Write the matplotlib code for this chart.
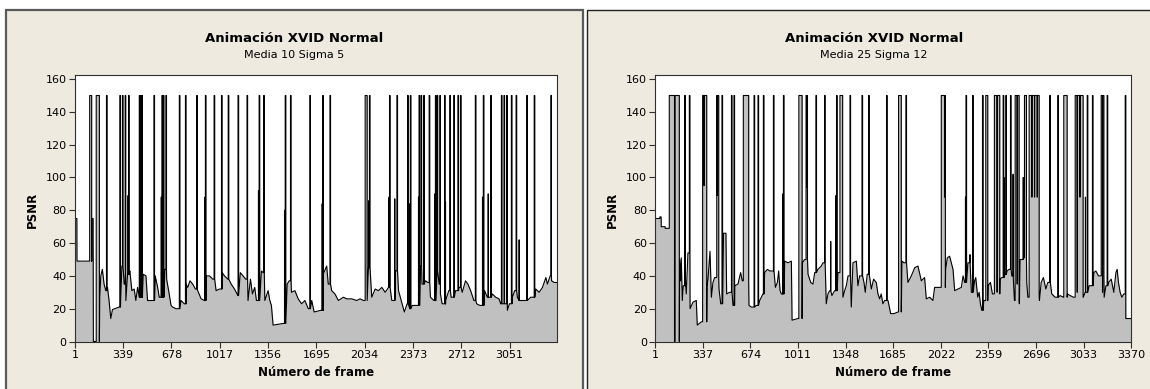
import matplotlib
matplotlib.use("Agg")
import matplotlib.pyplot as plt
from matplotlib.patches import Rectangle

plt.rcParams['font.family'] = ['DejaVu Sans']

# ---------------- data ----------------
title = "Animación XVID Normal"
subtitle_a = "Media 10 Sigma 5"
subtitle_b = "Media 25 Sigma 12"
xlabel = "Número de frame"
ylabel = "PSNR"

xticks_a = [1, 339, 678, 1017, 1356, 1695, 2034, 2373, 2712, 3051]
xticks_b = [1, 337, 674, 1011, 1348, 1685, 2022, 2359, 2696, 3033, 3370]
yticks = [0, 20, 40, 60, 80, 100, 120, 140, 160]
n_frames_a = 3383
n_frames_b = 3370
spike_level = 150

# Panel A (Media 10 Sigma 5): base PSNR level
base_f_a = [1, 14, 15, 104, 118, 128, 130, 146, 175, 182, 193, 205, 217, 229, 240, 252, 264, 311,
            330, 346, 358, 370, 386, 400, 416, 428, 440, 452, 480, 499, 510, 546, 564, 581, 592,
            632, 644, 658, 675, 686, 710, 733, 745, 768, 780, 792, 808, 827, 846, 862, 886, 909,
            921, 945, 968, 991, 1015, 1034, 1050, 1074, 1097, 1120, 1144, 1161, 1180, 1199, 1215,
            1232, 1246, 1262, 1274, 1309, 1321, 1333, 1356, 1368, 1379, 1391, 1462, 1490, 1504,
            1520, 1544, 1567, 1591, 1614, 1638, 1662, 1679, 1726, 1742, 1767, 1778, 1802, 1825,
            1849, 1884, 1908, 1943, 1978, 2001, 2025, 2060, 2083, 2107, 2130, 2154, 2177, 2201,
            2224, 2248, 2271, 2296, 2312, 2331, 2350, 2368, 2401, 2425, 2436, 2460, 2476, 2495,
            2519, 2542, 2556, 2565, 2577, 2601, 2624, 2640, 2659, 2671, 2695, 2718, 2741, 2758,
            2777, 2800, 2819, 2842, 2875, 2894, 2929, 2953, 2976, 2988, 3011, 3035, 3049, 3070,
            3086, 3105, 3117, 3140, 3171, 3199, 3234, 3258, 3281, 3305, 3316, 3335, 3345, 3363, 3383]
base_v_a = [75, 75, 49, 49, 75, 75, 0, 0, 27, 40, 44, 35, 31, 33, 25, 14, 19.5, 21,
            46, 35, 25, 41, 43, 31, 32, 25, 33, 27, 41, 40, 25, 25, 40, 33, 27,
            44, 38, 31, 22, 21, 20, 20, 25, 23, 35, 33, 37, 35, 32, 31, 26, 25,
            40, 40, 38, 31, 32, 42, 40, 38, 35, 32, 28, 42, 40, 38, 25,
            38, 29, 33, 25, 43, 42, 25, 31, 25, 22, 10, 11, 35, 37,
            30, 31, 26, 23, 25, 20, 25, 18, 19, 41, 46, 35, 31, 29,
            25, 27, 26, 26, 25, 26, 25, 45, 27, 32, 31, 33, 30, 33,
            25, 43, 31, 23, 18, 23, 20, 22, 22, 46, 35, 37, 36, 27,
            25, 43, 35, 29, 23, 25, 31, 27, 27, 31, 33, 30, 37, 35,
            31, 25, 23, 22, 31, 27, 29, 27, 26, 23, 23, 19, 23, 27,
            31, 27, 25, 25, 25, 27, 32, 30, 33, 39, 35, 40, 37, 36, 36]
spike_f_a = [104, 150, 222, 316, 334, 353, 377, 452, 461, 470, 555, 611, 621, 639, 733, 776, 855,
             916, 977, 1029, 1076, 1145, 1208, 1293, 1325, 1476, 1513, 1649, 1739, 1790, 2037,
             2067, 2208, 2260, 2335, 2354, 2415, 2429, 2448, 2486, 2530, 2542, 2561, 2594, 2631,
             2659, 2688, 2706, 2810, 2866, 2918, 2993, 3011, 3030, 3063, 3096, 3171, 3223, 3340]
spike_w_a = [14, 22, 4, 4, 4, 4, 4, 4, 4, 4, 4, 4, 4, 4, 4, 4, 4,
             4, 4, 4, 4, 4, 4, 4, 4, 4, 4, 4, 4, 4, 14,
             4, 4, 4, 4, 4, 4, 4, 4, 4, 4, 4, 4, 4, 4,
             4, 4, 4, 4, 4, 4, 4, 4, 4, 4, 4, 4, 4, 4]
part_f_a = [373, 606, 912, 1288, 1471, 1735, 2064, 2204, 2244, 2350, 2411, 2525, 2600, 2860, 2900, 3117]
part_v_a = [89, 88, 88, 92, 80, 84, 86, 88, 87, 84, 88, 90, 85, 88, 90, 62]

# Panel B (Media 25 Sigma 12)
base_f_b = [1, 33, 34, 42, 43, 70, 71, 99, 137, 140, 173, 180, 185, 192, 199, 213, 220, 232, 247,
            268, 291, 298, 327, 367, 374, 388, 398, 409, 421, 452, 464, 483, 501, 506, 527, 551,
            563, 586, 605, 617, 664, 681, 716, 740, 763, 775, 794, 811, 851, 865, 874, 884, 893,
            917, 940, 964, 969, 1011, 1042, 1058, 1082, 1101, 1117, 1129, 1152, 1176, 1188, 1211,
            1223, 1235, 1251, 1270, 1294, 1329, 1341, 1353, 1365, 1388, 1400, 1424, 1435, 1447,
            1478, 1487, 1501, 1530, 1546, 1565, 1577, 1589, 1600, 1612, 1624, 1648, 1667, 1690,
            1719, 1747, 1761, 1789, 1813, 1837, 1860, 1884, 1907, 1919, 1943, 1966, 1978, 2006,
            2056, 2068, 2084, 2108, 2120, 2143, 2167, 2179, 2191, 2214, 2238, 2261, 2269, 2283,
            2293, 2302, 2312, 2326, 2356, 2373, 2387, 2441, 2453, 2477, 2491, 2505, 2524, 2543,
            2578, 2583, 2607, 2630, 2638, 2720, 2732, 2748, 2765, 2779, 2807, 2831, 2866, 2890,
            2918, 2937, 2961, 3031, 3043, 3072, 3105, 3119, 3138, 3178, 3190, 3209, 3228, 3246,
            3261, 3270, 3279, 3291, 3303, 3317, 3331, 3370]
base_v_b = [75, 75, 76, 76, 70, 70, 69, 69, 0, 0, 50, 37, 51, 25, 34, 40, 29, 54, 20,
            24, 25, 10, 12, 34, 38, 55, 27, 36, 39, 32, 23, 66, 66, 29, 30, 22,
            34, 35, 42, 37, 22, 21, 22, 25, 29, 42, 44, 43, 33, 36, 43, 31, 29,
            49, 48, 49, 13, 14, 48, 50, 41, 36, 35, 42, 44, 46, 48, 23,
            29, 31, 28, 31, 42, 27, 31, 34, 40, 21, 48, 49, 34, 40,
            36, 30, 41, 32, 38, 36, 29, 26, 29, 23, 25, 25, 17, 17,
            18, 49, 48, 36, 40, 45, 46, 37, 39, 26, 27, 25, 33, 33,
            44, 51, 52, 44, 31, 32, 33, 40, 36, 48, 30, 37, 39, 27,
            30, 23, 19, 25, 34, 36, 29, 38, 39, 41, 43, 44, 40, 25,
            23, 50, 51, 36, 27, 25, 36, 39, 32, 36, 29, 27, 28, 27,
            29, 28, 27, 27, 30, 34, 42, 43, 40, 27, 34, 36, 38, 30,
            42, 44, 36, 30, 27, 29, 14, 14]
spike_f_b = [100, 141, 209, 242, 336, 436, 473, 540, 558, 624, 700, 728, 766, 837, 908, 1017, 1068,
             1138, 1199, 1284, 1308, 1379, 1464, 1511, 1638, 1723, 1775, 2025, 2200, 2247, 2317,
             2340, 2401, 2463, 2482, 2515, 2548, 2614, 2647, 2793, 2850, 2892, 2973, 3058, 3095,
             3157, 3199, 3327]
spike_w_b = [37, 30, 4, 4, 29, 14, 4, 4, 4, 38, 4, 4, 4, 4, 4, 23, 10,
             4, 4, 4, 19, 4, 4, 4, 4, 19, 4, 29, 4, 4, 4,
             14, 38, 4, 4, 4, 28, 14, 71, 4, 4, 24, 56, 4, 4,
             19, 4, 4]
part_f_b = [346, 440, 903, 1072, 1242, 1279, 2049, 2196, 2228, 2420, 2468, 2533, 2562, 2605,
            2666, 2685, 2704, 2987, 3006, 3045, 3166]
part_v_b = [95, 89, 90, 94, 61, 89, 88, 88, 53, 30, 100, 102, 35, 100,
            88, 88, 88, 30, 88, 88, 30]


def build_series(base_f, base_v, spike_f, spike_w, part_f, part_v):
    """Join base points, full spikes and partial spikes into one polyline."""
    spans = list(zip(spike_f, spike_w))
    dips = {}
    partials = []
    for f, v in zip(part_f, part_v):
        inside = [s for s, w in spans if s < f < s + w]
        if inside:
            dips.setdefault(inside[0], []).append((f, v))
        else:
            partials.append((f, v))
    events = [(f, 0, v) for f, v in zip(base_f, base_v)]
    events += [(s, 1, w) for s, w in spans]
    events += [(f, 2, v) for f, v in partials]
    events.sort(key=lambda e: (e[0], e[1]))
    xs, ys = [], []
    level = base_v[0]
    for f, kind, val in events:
        if kind == 0:
            xs.append(f); ys.append(val); level = val
        elif kind == 1:
            xs += [f, f]; ys += [level, spike_level]
            for df, dv in sorted(dips.get(f, [])):
                xs += [df, df, df + 1, df + 1]; ys += [spike_level, dv, dv, spike_level]
            xs += [f + val, f + val]; ys += [spike_level, level]
        else:
            xs += [f, f, f + 1, f + 1]; ys += [level, val, val, level]
    return xs, ys


W, H = 1150, 389
fig = plt.figure(figsize=(W / 100, H / 100), dpi=100, facecolor='white')

beige = '#EEEAE0'
fig.patches.append(Rectangle((6 / W, -0.05), (583 - 6) / W, (H - 10.5) / H + 0.05,
                             transform=fig.transFigure, facecolor=beige,
                             edgecolor='#5a5a5a', linewidth=1.6, zorder=-10))
fig.patches.append(Rectangle((586.5 / W, -0.05), (1165 - 586.5) / W, (H - 10.5) / H + 0.05,
                             transform=fig.transFigure, facecolor=beige,
                             edgecolor='#222222', linewidth=1.0, zorder=-10))

panels = [
    dict(x0=75, x1=557, xmax=n_frames_a, ticks=xticks_a, sub=subtitle_a, cx=294.5, ylx=32,
         data=(base_f_a, base_v_a, spike_f_a, spike_w_a, part_f_a, part_v_a)),
    dict(x0=655.3, x1=1131.3, xmax=n_frames_b, ticks=xticks_b, sub=subtitle_b, cx=874, ylx=612,
         data=(base_f_b, base_v_b, spike_f_b, spike_w_b, part_f_b, part_v_b)),
]

top_px, bot_px = 75, 341.5
for p in panels:
    ax = fig.add_axes([p['x0'] / W, (H - bot_px) / H, (p['x1'] - p['x0']) / W, (bot_px - top_px) / H])
    ax.set_zorder(5)
    ax.set_facecolor('white')
    xs, ys = build_series(*p['data'])
    ax.fill_between(xs, ys, 0, color='#C0C0C0', linewidth=0, zorder=1)
    ax.plot(xs, ys, color='black', linewidth=0.8, zorder=2)
    ax.set_xlim(1, p['xmax'])
    ax.set_ylim(0, 162.5)
    ax.set_xticks(p['ticks'])
    ax.set_yticks(yticks)
    for s in ax.spines.values():
        s.set_color('#303030'); s.set_linewidth(0.8)
    ax.tick_params(direction='out', length=4, width=0.8, colors='#303030', labelcolor='black',
                   labelsize=8, pad=2, top=False, right=False)
    fig.text(p['cx'] / W, 1 - 38 / H, title, ha='center', va='center', fontsize=9.5,
             fontweight='bold')
    fig.text(p['cx'] / W, 1 - 55 / H, p['sub'], ha='center', va='center', fontsize=8)
    fig.text((p['x0'] + p['x1']) / 2 / W, 1 - 372 / H, xlabel, ha='center', va='center',
             fontsize=8.5, fontweight='bold')
    fig.text(p['ylx'] / W, 1 - 210 / H, ylabel, ha='center', va='center', rotation=90,
             fontsize=8.5, fontweight='bold')

fig.savefig('out.png', dpi=100, facecolor='white')
